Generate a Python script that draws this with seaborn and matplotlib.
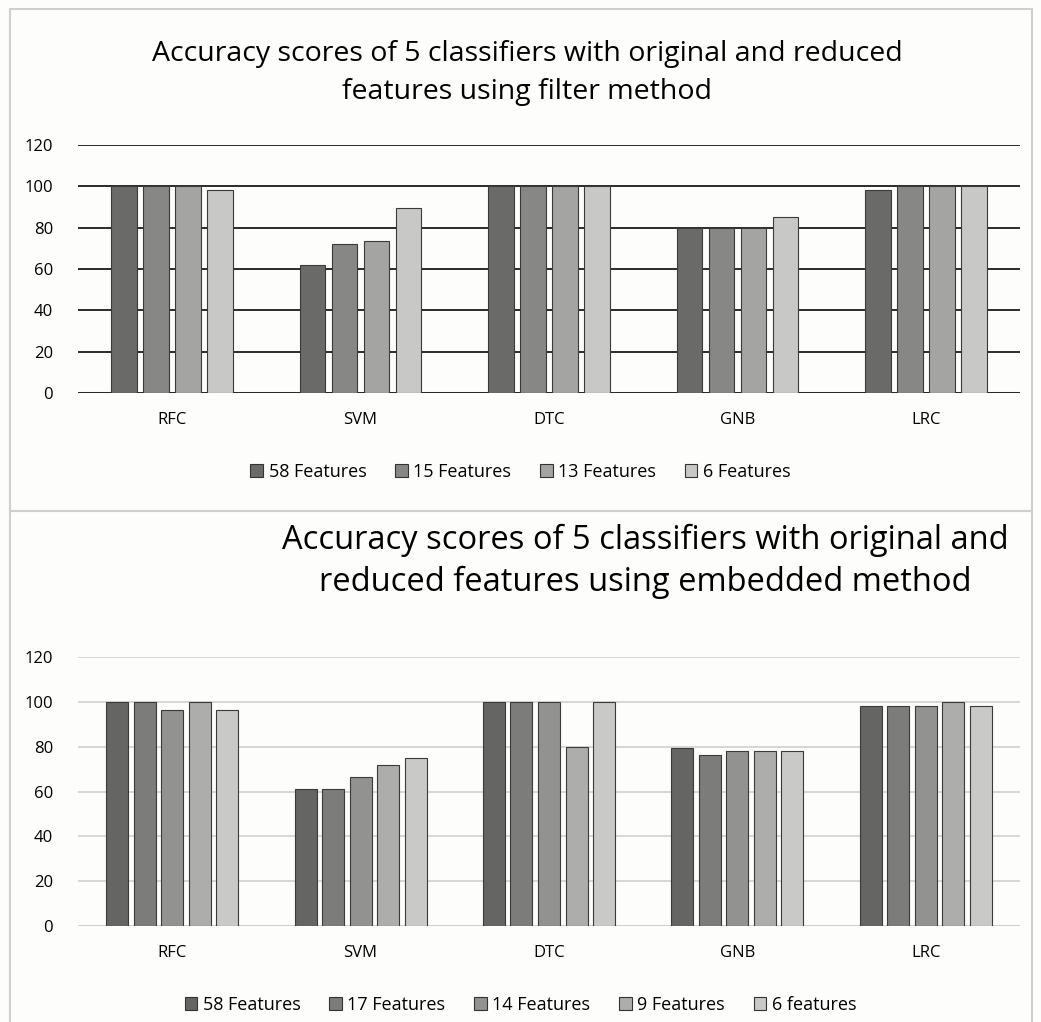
import pandas as pd
import matplotlib.pyplot as plt
import matplotlib.patches as mpatches
import seaborn as sns

classifiers = ['RFC', 'SVM', 'DTC', 'GNB', 'LRC']

# filter method
filter_labels = ['58 Features', '15 Features', '13 Features', '6 Features']
filter_58 = [100, 62, 100, 80, 98]
filter_15 = [100, 72, 100, 80, 100]
filter_13 = [100, 73.5, 100, 80, 100]
filter_6 = [98, 89.7, 100, 85, 100]

# embedded method
embed_labels = ['58 Features', '17 Features', '14 Features', '9 Features', '6 features']
embed_58 = [100, 61, 100, 79.5, 98]
embed_17 = [100, 61, 100, 76.3, 98]
embed_14 = [96.5, 66.5, 100, 78.2, 98]
embed_9 = [100, 71.6, 80, 78.2, 100]
embed_6 = [96.5, 74.8, 100, 78.2, 98]

filter_colors = ['#6a6b69', '#878886', '#a4a5a3', '#c8c9c7']
embed_colors = ['#656664', '#7c7d7b', '#929391', '#adaeac', '#c9cac8']

sns.set_style('white')
plt.rcParams['font.family'] = ['Open Sans', 'DejaVu Sans']
plt.rcParams['text.color'] = 'black'

fig = plt.figure(figsize=(10.41, 10.22), dpi=100)
fig.patch.set_facecolor('#fdfdfb')
W, H = 1041, 1022


def px_rect(x0, y0, x1, y1):
    return mpatches.Rectangle((x0 / W, 1 - y1 / H), (x1 - x0) / W, (y1 - y0) / H,
                              transform=fig.transFigure, fill=False,
                              edgecolor='#cfcfcf', linewidth=1.5)


fig.patches.append(px_rect(10, 9, 1032, 511))
fig.patches.append(px_rect(10, 511, 1032, 1030))


def long_df(labels, series):
    rows = []
    for lab, vals in zip(labels, series):
        for c, v in zip(classifiers, vals):
            rows.append({'Classifier': c, 'Features': lab, 'Accuracy': v})
    return pd.DataFrame(rows)


def draw(ax, df, labels, colors, width, grid_color, grid_lw):
    sns.barplot(data=df, x='Classifier', y='Accuracy', hue='Features',
                hue_order=labels, palette=colors, width=width, gap=0.2,
                edgecolor='#3a3a3a', linewidth=0.8, ax=ax, legend=False)
    ax.set_ylim(0, 120)
    ax.set_yticks(range(0, 121, 20))
    ax.set_xlim(-0.5, 4.5)
    ax.set_facecolor('none')
    ax.yaxis.grid(True, color=grid_color, linewidth=grid_lw)
    ax.set_axisbelow(True)
    for s in ax.spines.values():
        s.set_visible(False)
    ax.axhline(0, color='#bdbdbd', linewidth=1.5, zorder=0)
    ax.set_xlabel('')
    ax.set_ylabel('')
    ax.tick_params(axis='both', length=0, labelsize=12, colors='black')
    ax.tick_params(axis='x', pad=14)
    ax.tick_params(axis='y', pad=18)
    for t in ax.get_yticklabels():
        t.set_horizontalalignment('right')


ax1 = fig.add_axes([78 / W, 1 - 393 / H, (1020 - 78) / W, (393 - 145) / H])
draw(ax1, long_df(filter_labels, [filter_58, filter_15, filter_13, filter_6]),
     filter_labels, filter_colors, 0.68, '#1a1a1a', 1.3)

ax2 = fig.add_axes([78 / W, 1 - 926 / H, (1020 - 78) / W, (926 - 657) / H])
draw(ax2, long_df(embed_labels, [embed_58, embed_17, embed_14, embed_9, embed_6]),
     embed_labels, embed_colors, 0.73, '#d4d4d4', 1.3)

fig.text(527 / W, 1 - 73 / H,
         'Accuracy scores of 5 classifiers with original and reduced\nfeatures using filter method',
         ha='center', va='center', fontsize=20.5, linespacing=1.5)
fig.text(645 / W, 1 - 561 / H,
         'Accuracy scores of 5 classifiers with original and\nreduced features using embedded method',
         ha='center', va='center', fontsize=23.5, linespacing=1.35)


def add_legend(labels, colors, y):
    handles = [mpatches.Patch(facecolor=c, edgecolor='#333333', linewidth=0.8, label=l)
               for l, c in zip(labels, colors)]
    fig.legend(handles=handles, loc='center', bbox_to_anchor=(0.5, 1 - y / H),
               ncol=len(labels), frameon=False, fontsize=13,
               handlelength=0.7, handleheight=0.7, handletextpad=0.3,
               columnspacing=1.6)


add_legend(filter_labels, filter_colors, 472)
add_legend(embed_labels, embed_colors, 1005)

fig.savefig('out.png', dpi=100, facecolor=fig.get_facecolor())
